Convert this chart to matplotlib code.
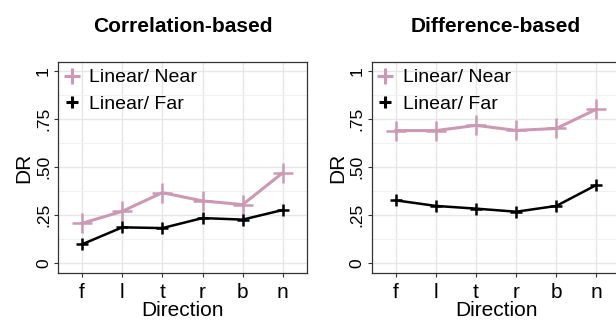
import matplotlib
matplotlib.use("Agg")
import matplotlib.pyplot as plt
from matplotlib.lines import Line2D
from matplotlib.ticker import MultipleLocator

plt.rcParams["font.family"] = ["Liberation Sans", "DejaVu Sans"]

directions = ["f", "l", "t", "r", "b", "n"]
corr_near = [0.208, 0.270, 0.367, 0.324, 0.305, 0.470]
corr_far = [0.099, 0.187, 0.183, 0.235, 0.227, 0.277]
diff_near = [0.689, 0.689, 0.716, 0.690, 0.700, 0.800]
diff_far = [0.327, 0.298, 0.284, 0.268, 0.298, 0.407]
titles = ["Correlation-based", "Difference-based"]
series_labels = ["Linear/ Near", "Linear/ Far"]
yticks = [0, 0.25, 0.5, 0.75, 1]
ytick_labels = ["0", ".25", ".50", ".75", "1"]

PINK = "#cc99b4"
GRID = "#e6e6e6"

fig = plt.figure(figsize=(6.16, 3.22), dpi=100)
positions = [[0.0942, 0.1522, 0.404, 0.6553], [0.6034, 0.1522, 0.404, 0.6553]]

x = list(range(1, len(directions) + 1))
for pos, title, near, far in zip(positions, titles,
                                 [corr_near, diff_near], [corr_far, diff_far]):
    ax = fig.add_axes(pos)
    ax.plot(x, near, color=PINK, lw=2.2, marker="+", ms=15, mew=1.8, zorder=3)
    ax.plot(x, far, color="black", lw=1.8, marker="+", ms=8.5, mew=1.8, zorder=4)
    ax.set_xlim(0.4, 6.6)
    ax.set_ylim(-0.05, 1.045)
    ax.set_xticks(x)
    ax.set_xticklabels(directions, fontsize=15)
    ax.set_yticks(yticks)
    ax.set_yticklabels(ytick_labels, fontsize=12.5, rotation=90, va="center")
    ax.yaxis.set_minor_locator(MultipleLocator(0.125))
    ax.grid(True, which="major", color=GRID, lw=1.0)
    ax.grid(True, which="minor", axis="y", color="#f0f0f0", lw=0.8)
    ax.set_axisbelow(True)
    ax.tick_params(which="major", length=3, width=0.8, color="#333333", pad=2)
    ax.tick_params(axis="x", pad=4)
    ax.tick_params(which="minor", length=0)
    for s in ax.spines.values():
        s.set_color("#333333")
        s.set_linewidth(0.9)
    ax.set_xlabel("Direction", fontsize=15, labelpad=-0.5)
    ax.set_ylabel("DR", fontsize=15, labelpad=2)
    ax.set_title(title, fontsize=15, fontweight="bold", pad=0, y=1.14)

    handles = [
        Line2D([], [], color=PINK, marker="+", ls="none", ms=12, mew=2.2),
        Line2D([], [], color="black", marker="+", ls="none", ms=8, mew=2.2),
    ]
    ax.legend(handles, series_labels, loc="upper left", frameon=False,
              fontsize=14, handlelength=0.7, handletextpad=0.55,
              borderaxespad=0.1, labelspacing=0.45, borderpad=0.25)

fig.savefig("out.png", dpi=100)
